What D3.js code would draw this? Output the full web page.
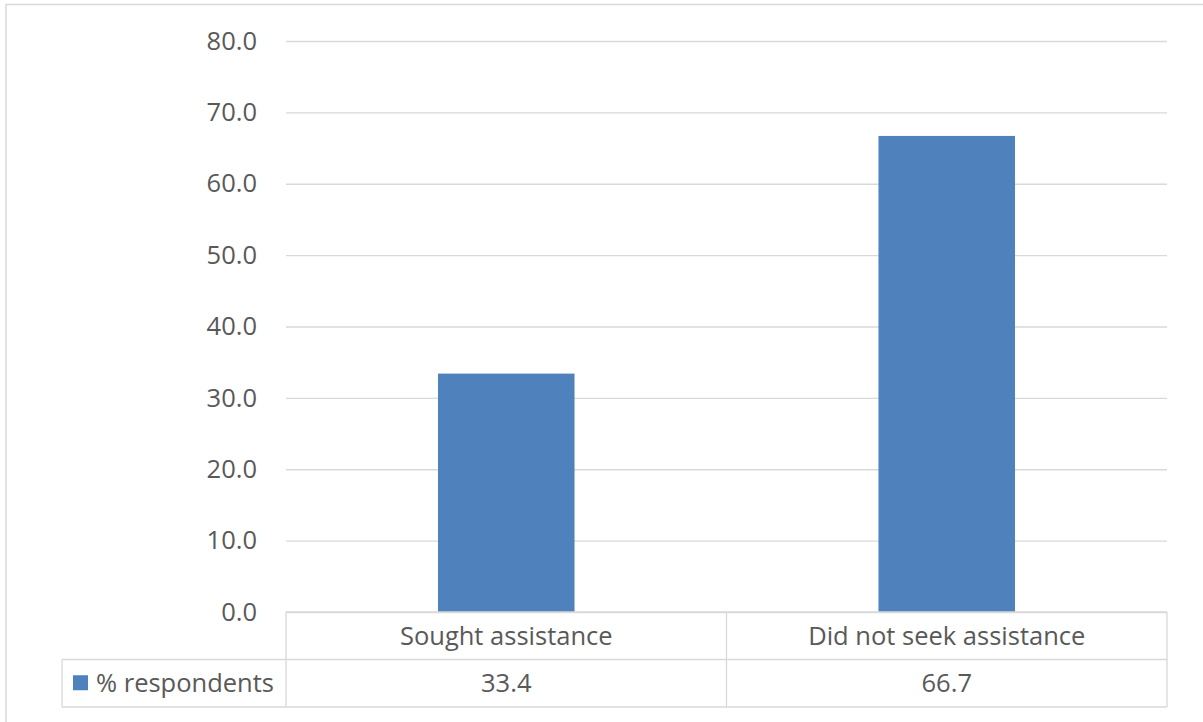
<!DOCTYPE html>
<html>
<head>
<meta charset="utf-8">
<script src="https://cdn.jsdelivr.net/npm/d3@7"></script>
<style>
  html, body { margin: 0; padding: 0; background: #ffffff; }
  svg { display: block; }
  text { font-family: "Open Sans", "Noto Sans", sans-serif; fill: #595959; }
</style>
</head>
<body>
<svg id="chart" width="1203" height="722"></svg>
<script>
// Chart data
const categories = ["Sought assistance", "Did not seek assistance"];
const seriesName = "% respondents";
const values = [33.4, 66.7];
const yTicks = [0, 10, 20, 30, 40, 50, 60, 70, 80];

const W = 1203, H = 722;
const plot = { left: 286, right: 1167, top: 41, bottom: 612 };
const rowH = 47.5;
const legendLeft = 62;
const fontSize = 25.5;
const gridColor = "#d9d9d9";
const barColor = "#4f81bd";

const svg = d3.select("#chart");

// Chart frame (extends past the right and bottom edges)
svg.append("rect")
  .attr("x", 6).attr("y", 4.5)
  .attr("width", W + 20).attr("height", H + 20)
  .attr("fill", "none").attr("stroke", "#d9d9d9").attr("stroke-width", 1.5);

const x = d3.scaleBand()
  .domain(categories)
  .range([plot.left, plot.right])
  .paddingInner(0.69)
  .paddingOuter(0.345);

const xCell = d3.scaleBand()
  .domain(categories)
  .range([plot.left, plot.right]);

const y = d3.scaleLinear()
  .domain([0, 80])
  .range([plot.bottom, plot.top]);

// Value axis with horizontal gridlines
const yAxis = d3.axisLeft(y)
  .tickValues(yTicks)
  .tickFormat(d3.format(".1f"))
  .tickSize(-(plot.right - plot.left))
  .tickPadding(29);

const gy = svg.append("g")
  .attr("transform", `translate(${plot.left},0)`)
  .call(yAxis);
gy.select(".domain").remove();
gy.selectAll(".tick line").attr("stroke", gridColor).attr("stroke-width", 1.3);
gy.selectAll(".tick text")
  .attr("fill", "#595959")
  .style("font-size", fontSize + "px")
  .style("font-family", "'Open Sans', 'Noto Sans', sans-serif");

// Bars
svg.append("g").selectAll("rect")
  .data(values)
  .join("rect")
  .attr("x", (d, i) => x(categories[i]))
  .attr("y", d => y(d))
  .attr("width", x.bandwidth())
  .attr("height", d => y(0) - y(d))
  .attr("fill", barColor);

// Data table below the plot
const table = svg.append("g").attr("stroke", gridColor).attr("stroke-width", 1.3).attr("fill", "none");
const row1 = plot.bottom, row2 = plot.bottom + rowH, row3 = plot.bottom + 2 * rowH;
table.append("line").attr("x1", plot.left).attr("x2", plot.right).attr("y1", row1).attr("y2", row1);
table.append("line").attr("x1", legendLeft).attr("x2", plot.right).attr("y1", row2).attr("y2", row2);
table.append("line").attr("x1", legendLeft).attr("x2", plot.right).attr("y1", row3).attr("y2", row3);
table.append("line").attr("x1", legendLeft).attr("x2", legendLeft).attr("y1", row2).attr("y2", row3);
table.append("line").attr("x1", plot.left).attr("x2", plot.left).attr("y1", row1).attr("y2", row3);
categories.forEach(c => {
  const xe = xCell(c) + xCell.bandwidth();
  table.append("line").attr("x1", xe).attr("x2", xe).attr("y1", row1).attr("y2", row3);
});

// Category labels
svg.append("g").selectAll("text")
  .data(categories)
  .join("text")
  .attr("x", d => xCell(d) + xCell.bandwidth() / 2)
  .attr("y", row1 + rowH / 2)
  .attr("dy", "0.35em")
  .attr("text-anchor", "middle")
  .style("font-size", fontSize + "px")
  .text(d => d);

// Value labels
svg.append("g").selectAll("text")
  .data(values)
  .join("text")
  .attr("x", (d, i) => xCell(categories[i]) + xCell.bandwidth() / 2)
  .attr("y", row2 + rowH / 2)
  .attr("dy", "0.35em")
  .attr("text-anchor", "middle")
  .style("font-size", fontSize + "px")
  .text(d => d.toFixed(1));

// Legend key in the table
svg.append("rect")
  .attr("x", 73).attr("y", row2 + rowH / 2 - 8)
  .attr("width", 15).attr("height", 15)
  .attr("fill", barColor);
svg.append("text")
  .attr("x", 96)
  .attr("y", row2 + rowH / 2)
  .attr("dy", "0.35em")
  .style("font-size", fontSize + "px")
  .text(seriesName);
</script>
</body>
</html>
